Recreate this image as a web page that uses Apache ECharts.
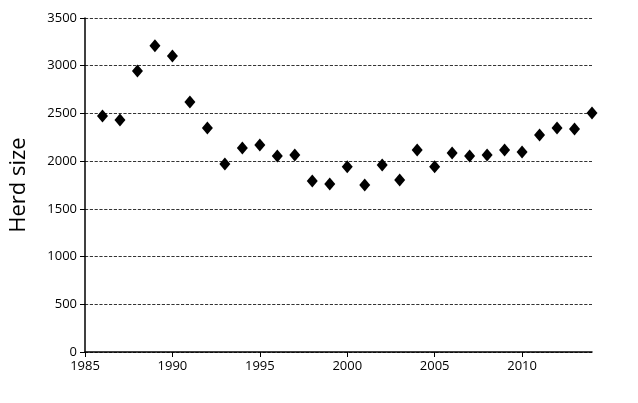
<!DOCTYPE html>
<html><head><meta charset="utf-8">
<script src="https://cdn.jsdelivr.net/npm/echarts@6/dist/echarts.min.js"></script>
<style>html,body{margin:0;padding:0;background:#fff}#c{width:638px;height:403px}</style>
</head><body><div id="c"></div>
<script>
const years = [1986,1987,1988,1989,1990,1991,1992,1993,1994,1995,1996,1997,1998,1999,2000,2001,2002,2003,2004,2005,2006,2007,2008,2009,2010,2011,2012,2013,2014];
const herd = [2474,2432,2945,3208,3103,2620,2348,1970,2138,2170,2055,2065,1792,1761,1940,1750,1960,1803,2117,1940,2086,2055,2065,2117,2096,2275,2348,2338,2505];
const data = years.map((y,i)=>[y,herd[i]]);
const chart = echarts.init(document.getElementById('c'));
const font = 'Open Sans, DejaVu Sans, sans-serif';
chart.setOption({
  animation:false,
  grid:{left:85,right:46,top:18,bottom:51},
  xAxis:{type:'value',min:1985,max:2014,interval:5,
    axisLine:{lineStyle:{color:'#000',width:1.5}},
    axisTick:{show:true,length:5,lineStyle:{color:'#000'}},
    axisLabel:{color:'#000',fontSize:13,fontFamily:font,showMaxLabel:false,margin:8,formatter:v=>String(v)},
    splitLine:{show:false}},
  yAxis:{type:'value',min:0,max:3500,interval:500,name:'Herd size',nameLocation:'middle',nameGap:55,
    nameTextStyle:{fontSize:22,color:'#000',fontFamily:font},
    axisLine:{show:true,lineStyle:{color:'#000',width:1.5}},
    axisTick:{show:true,length:5,lineStyle:{color:'#000'}},
    axisLabel:{color:'#000',fontSize:13,fontFamily:font,formatter:v=>String(v)},
    splitLine:{show:true,lineStyle:{color:'#000',type:'dashed',width:0.8}}},
  series:[{type:'scatter',data:data,symbol:'diamond',symbolSize:[11,13],itemStyle:{color:'#000',opacity:1}}]
});
</script></body></html>
